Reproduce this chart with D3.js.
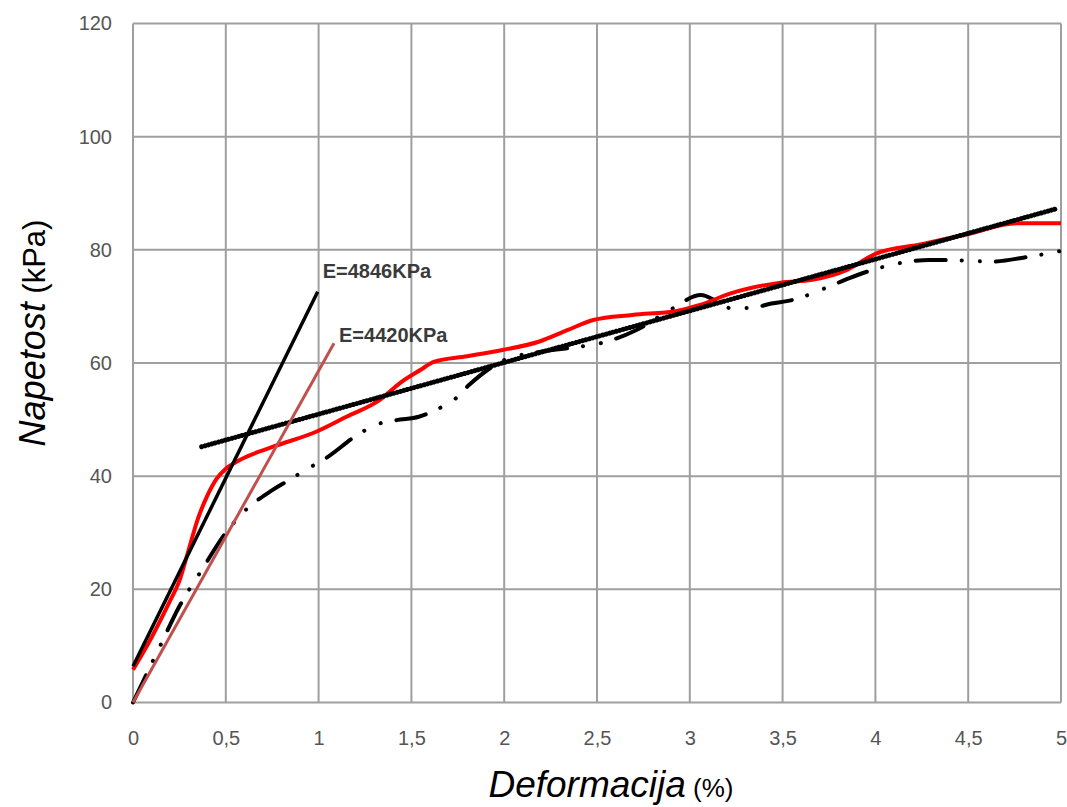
<!DOCTYPE html>
<html>
<head>
<meta charset="utf-8">
<script src="https://cdn.jsdelivr.net/npm/d3@7"></script>
<style>
  html, body { margin: 0; padding: 0; background: #fff; }
  svg { display: block; }
  text { font-family: "Liberation Sans", Arial, sans-serif; }
</style>
</head>
<body>
<svg id="chart" width="1067" height="807"></svg>
<script>
// ---- data ----
const xTicks = [0, 0.5, 1, 1.5, 2, 2.5, 3, 3.5, 4, 4.5, 5];
const xTickLabels = ["0", "0,5", "1", "1,5", "2", "2,5", "3", "3,5", "4", "4,5", "5"];
const yTicks = [0, 20, 40, 60, 80, 100, 120];
const yTickLabels = ["0", "20", "40", "60", "80", "100", "120"];

// red measured curve
const redX = [0, 0.1, 0.2, 0.25, 0.3, 0.35, 0.4, 0.45, 0.5, 0.577, 0.755, 0.99, 1.15, 1.33, 1.44, 1.55, 1.62, 1.8, 1.99, 2.19, 2.34, 2.48, 2.69, 2.93, 3.05, 3.22, 3.49, 3.66, 3.85, 4.0, 4.25, 4.5, 4.76, 5.0];
const redY = [5.8, 11.5, 18.0, 21.5, 27.0, 32.5, 36.5, 39.5, 41.3, 42.9, 45.2, 47.9, 50.5, 53.5, 56.5, 58.8, 60.2, 61.2, 62.3, 63.8, 65.8, 67.6, 68.5, 69.2, 70.2, 72.3, 74.2, 74.7, 76.5, 79.3, 81.0, 82.8, 84.7, 84.7];

// black dash-dot measured curve
const dashX = [0, 0.145, 0.25, 0.37, 0.5, 0.6, 0.74, 0.84, 0.94, 1.04, 1.21, 1.31, 1.42, 1.54, 1.65, 1.73, 1.81, 2.0, 2.2, 2.41, 2.52, 2.71, 2.9, 3.06, 3.14, 3.22, 3.32, 3.44, 3.56, 3.75, 3.86, 3.97, 4.08, 4.29, 4.5, 4.62, 4.83, 5.0];
const dashY = [0, 9.9, 17, 23.4, 30, 33.8, 37.3, 39.3, 41.3, 43.2, 47.3, 49.1, 49.9, 50.5, 52, 53.5, 56.1, 60.5, 62.0, 62.9, 63.5, 65.8, 69.5, 72.0, 71.0, 69.7, 69.7, 70.5, 71.2, 73.5, 75.0, 76.3, 77.3, 78.2, 78.1, 77.9, 78.8, 79.8];

// linear trend line (beaded black)
const trendX = [0.37, 4.98];
const trendY = [45.2, 87.3];

// tangent (modulus) lines
const tangentBlackX = [0, 0.995];
const tangentBlackY = [6.4, 72.6];
const tangentBrownX = [0, 1.083];
const tangentBrownY = [0, 63.5];

const labels = ["E=4846KPa", "E=4420KPa"];
</script>
<script>
const zip = (xs, ys) => xs.map((x, i) => [x, ys[i]]);
const svg = d3.select("#chart");

const x = d3.scaleLinear().domain([0, 5]).range([133, 1061]);
const y = d3.scaleLinear().domain([0, 120]).range([702.5, 23.5]);

const gridColor = "#9f9f9f";

// grid
svg.append("g").selectAll("line").data(xTicks).join("line")
  .attr("x1", d => x(d)).attr("x2", d => x(d))
  .attr("y1", y(0)).attr("y2", y(120))
  .attr("stroke", gridColor).attr("stroke-width", 2);
svg.append("g").selectAll("line").data(yTicks).join("line")
  .attr("x1", x(0)).attr("x2", x(5))
  .attr("y1", d => y(d)).attr("y2", d => y(d))
  .attr("stroke", gridColor).attr("stroke-width", 2);

// axes labels via d3 axes (no domain / tick lines)
const xAxis = d3.axisBottom(x).tickValues(xTicks).tickFormat((d, i) => xTickLabels[i]).tickSize(0).tickPadding(28);
const gx = svg.append("g").attr("transform", `translate(0,${y(0)})`).call(xAxis);
gx.select(".domain").remove();
gx.selectAll("text").attr("font-size", 20).attr("fill", "#555")
  .attr("font-family", "Liberation Sans, Arial, sans-serif");

const yAxis = d3.axisLeft(y).tickValues(yTicks).tickFormat((d, i) => yTickLabels[i]).tickSize(0).tickPadding(21);
const gy = svg.append("g").attr("transform", `translate(${x(0)},0)`).call(yAxis);
gy.select(".domain").remove();
gy.selectAll("text").attr("font-size", 20).attr("fill", "#555")
  .attr("font-family", "Liberation Sans, Arial, sans-serif");

const line = d3.line().x(d => x(d[0])).y(d => y(d[1]));
const curve = d3.line().x(d => x(d[0])).y(d => y(d[1])).curve(d3.curveMonotoneX);

// dash-dot curve
svg.append("path").datum(zip(dashX, dashY))
  .attr("d", curve).attr("fill", "none").attr("stroke", "#000")
  .attr("stroke-width", 4).attr("stroke-linecap", "round")
  .attr("stroke-dasharray", "30 16 0.1 18 0.1 16");

// red curve
svg.append("path").datum(zip(redX, redY))
  .attr("d", curve).attr("fill", "none").attr("stroke", "#ff0000")
  .attr("stroke-width", 4).attr("stroke-linejoin", "round");

// trend line (beaded)
svg.append("path").datum(zip(trendX, trendY))
  .attr("d", line).attr("fill", "none").attr("stroke", "#000")
  .attr("stroke-width", 5).attr("stroke-linecap", "round")
  .attr("stroke-dasharray", "0.1 3.4");

// tangent lines
svg.append("path").datum(zip(tangentBrownX, tangentBrownY))
  .attr("d", line).attr("fill", "none").attr("stroke", "#c0504d")
  .attr("stroke-width", 3);
svg.append("path").datum(zip(tangentBlackX, tangentBlackY))
  .attr("d", line).attr("fill", "none").attr("stroke", "#000")
  .attr("stroke-width", 3.5);

// annotations
svg.append("text").attr("x", x(tangentBlackX[1]) + 5).attr("y", y(tangentBlackY[1]) - 14)
  .attr("font-size", 20).attr("font-weight", "bold").attr("fill", "#3a3a3a").text(labels[0]);
svg.append("text").attr("x", x(tangentBrownX[1]) + 5).attr("y", y(tangentBrownY[1]) - 1)
  .attr("font-size", 20).attr("font-weight", "bold").attr("fill", "#3a3a3a").text(labels[1]);

// axis titles
const yt = svg.append("text")
  .attr("transform", `translate(45,333) rotate(-90)`)
  .attr("text-anchor", "middle").attr("fill", "#000");
yt.append("tspan").attr("font-style", "italic").attr("font-size", 36).text("Napetost");
yt.append("tspan").attr("font-size", 31).text(" (kPa)");

const xt = svg.append("text")
  .attr("x", (x(0) + x(5)) / 2 + 14).attr("y", 797)
  .attr("text-anchor", "middle").attr("fill", "#000");
xt.append("tspan").attr("font-style", "italic").attr("font-size", 37).text("Deformacija");
xt.append("tspan").attr("font-size", 26).text(" (%)");
</script>
</body>
</html>
